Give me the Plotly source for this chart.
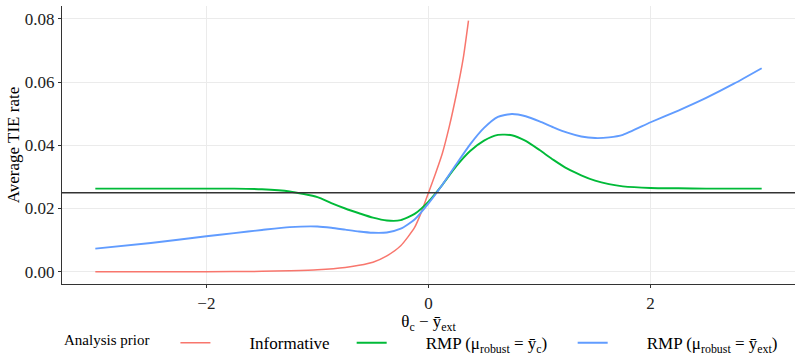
import plotly.graph_objects as go

# Data
x_inf = [-3.0, -2.0, -1.5, -1.25, -1.0, -0.75, -0.625, -0.5, -0.375, -0.25, -0.125, -0.0625, 0.0, 0.0625, 0.125, 0.1875, 0.25, 0.3125, 0.36]
y_inf = [0.0, 0.0, 0.0001, 0.0003, 0.0006, 0.0013, 0.0020, 0.0030, 0.0050, 0.0082, 0.0140, 0.0190, 0.0250, 0.0310, 0.0375, 0.0460, 0.0560, 0.0675, 0.0795]

x_rmp = [-3.0, -2.5, -2.0, -1.75, -1.5, -1.25, -1.0, -0.875, -0.75, -0.625, -0.5, -0.375, -0.25, -0.125, 0.0,
         0.125, 0.25, 0.375, 0.5, 0.625, 0.75, 0.875, 1.0, 1.125, 1.25, 1.375, 1.5, 1.625, 1.75, 2.0, 2.25, 2.5, 2.75, 3.0]
y_rmp_c = [0.0263, 0.0263, 0.0263, 0.0263, 0.0261, 0.0254, 0.0236, 0.0217, 0.0200, 0.0185, 0.0171, 0.0162, 0.0163, 0.0183, 0.0222,
           0.0275, 0.0334, 0.0382, 0.0415, 0.0433, 0.0432, 0.0414, 0.0385, 0.0354, 0.0326, 0.0305, 0.0288, 0.0277, 0.0270, 0.0265, 0.0264, 0.0263, 0.0263, 0.0263]
y_rmp_ext = [0.0073, 0.0091, 0.0112, 0.0122, 0.0132, 0.0141, 0.0143, 0.0139, 0.0133, 0.0127, 0.0123, 0.0124, 0.0136, 0.0165, 0.0216,
             0.0275, 0.0340, 0.0403, 0.0455, 0.0490, 0.0499, 0.0492, 0.0476, 0.0457, 0.0440, 0.0428, 0.0423, 0.0425, 0.0433, 0.0473, 0.0510, 0.0550, 0.0595, 0.0644]

ref_level = 0.025
x_ticks = [-2, 0, 2]
x_ticklabels = ["\u22122", "0", "2"]
y_ticks = [0.0, 0.02, 0.04, 0.06, 0.08]
y_ticklabels = ["0.00", "0.02", "0.04", "0.06", "0.08"]

PAD = "\u2003\u2003"
names = [PAD + "Informative" + "\u2003",
         PAD + "RMP (\u03bc<sub>robust</sub> = \u0233<sub>c</sub>)" + "\u2003\u2009",
         PAD + "RMP (\u03bc<sub>robust</sub> = \u0233<sub>ext</sub>)"]
colors = ["#F8766D", "#00BA38", "#619CFF"]
widths = [1.5, 1.9, 1.9]

FONT = "Liberation Serif"

fig = go.Figure()
series = [(x_inf, y_inf), (x_rmp, y_rmp_c), (x_rmp, y_rmp_ext)]
for (xs, ys), nm, col, w in zip(series, names, colors, widths):
    fig.add_trace(go.Scatter(x=xs, y=ys, mode="lines", name=nm,
                             line=dict(color=col, width=w, shape="spline", smoothing=0.6)))

fig.add_hline(y=ref_level, line=dict(color="#333333", width=1.6))

fig.update_layout(
    width=796, height=357,
    margin=dict(l=62, r=1, t=6, b=73, autoexpand=False),
    paper_bgcolor="white", plot_bgcolor="white",
    font=dict(family=FONT, size=17, color="black"),
    xaxis=dict(range=[-3.3, 3.3], tickvals=x_ticks, ticktext=x_ticklabels,
               showgrid=True, gridcolor="#EBEBEB", gridwidth=1, zeroline=False,
               showline=True, linecolor="#333333", linewidth=1.2,
               ticks="outside", ticklen=3, tickcolor="#333333",
               title=dict(text="\u03b8<sub>c</sub> \u2212 \u0233<sub>ext</sub>", standoff=0,
                          font=dict(family=FONT, size=17)),
               tickfont=dict(family=FONT, size=17, color="#222222")),
    yaxis=dict(range=[-0.0039, 0.0841], tickvals=y_ticks, ticktext=y_ticklabels,
               showgrid=True, gridcolor="#EBEBEB", gridwidth=1, zeroline=False,
               showline=True, linecolor="#333333", linewidth=1.2,
               ticks="outside", ticklen=3, tickcolor="#333333",
               title=dict(text="Average TIE rate", standoff=0, font=dict(family=FONT, size=17)),
               tickfont=dict(family=FONT, size=17, color="#222222")),
    legend=dict(orientation="h", x=0.0, xref="paper", xanchor="left",
                y=-0.148, yanchor="top",
                title=dict(text="Analysis prior\u2003\u2009", side="left", font=dict(family=FONT, size=15)),
                font=dict(family=FONT, size=17),
                bgcolor="rgba(0,0,0,0)"),
    showlegend=True,
)

fig.write_html("out.html")
